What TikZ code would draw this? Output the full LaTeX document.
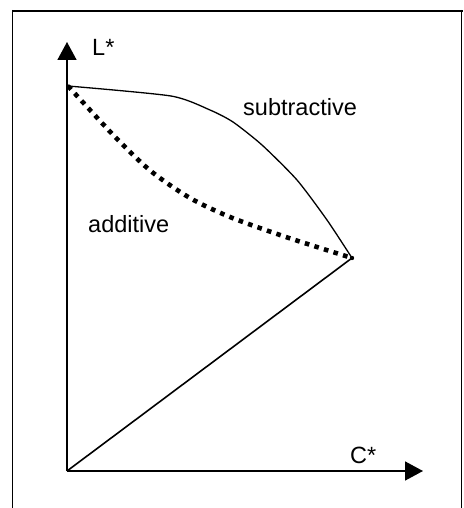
\documentclass[tikz,border=0pt]{standalone}
\usepackage{fontspec}
\setmainfont{Liberation Sans}
\usetikzlibrary{arrows.meta}
\begin{document}
\begin{tikzpicture}[x=1pt,y=-1pt,
  axis/.style={line width=1.6pt,-{Triangle[length=18pt,width=19pt]}},
  frameline/.style={line width=1.3pt},
  lbl/.style={inner sep=0pt,anchor=base west,font=\fontsize{23.5}{27}\selectfont},
  subcurve/.style={line width=1.3pt},
  addcurve/.style={line width=4.6pt,dash pattern=on 4.6pt off 5.4pt}]
\useasboundingbox (0,0) rectangle (463,508);
% frame
\draw[frameline,line width=2pt] (12.7,11) -- (463,11);
\draw[frameline] (12.7,10) -- (12.7,508);
\draw[frameline] (461.8,10) -- (461.8,508);
% points
\coordinate (O) at (67,471);
\coordinate (Ltip) at (67,42);
\coordinate (Ctip) at (423,471);
\coordinate (T) at (68,86);
\coordinate (P) at (352,258);
% axes
\draw[axis] (O) -- (Ltip);
\draw[axis] (O) -- (Ctip);
\draw[line width=1.6pt] (O) -- (P);
% curves
\draw[subcurve] plot[smooth,tension=0.4] coordinates {(T) (171,96) (210,110) (233,122) (262,145) (297,180) (327,220) (P)};
\draw[addcurve] plot[smooth,tension=0.5] coordinates {(T) (90,110) (120,142) (152,172) (190,198) (230,217) (280,235) (317,247) (P)};
\fill (T) circle (1.8pt);
\fill (P) circle (2.2pt);
% labels
\node[lbl] (lL) at (92,56) {L*};
\node[lbl] (lC) at (350,463) {C*};
\node[lbl] (lsub) at (243,115) {subtractive};
\node[lbl] (ladd) at (88,232) {additive};
\end{tikzpicture}
\end{document}
